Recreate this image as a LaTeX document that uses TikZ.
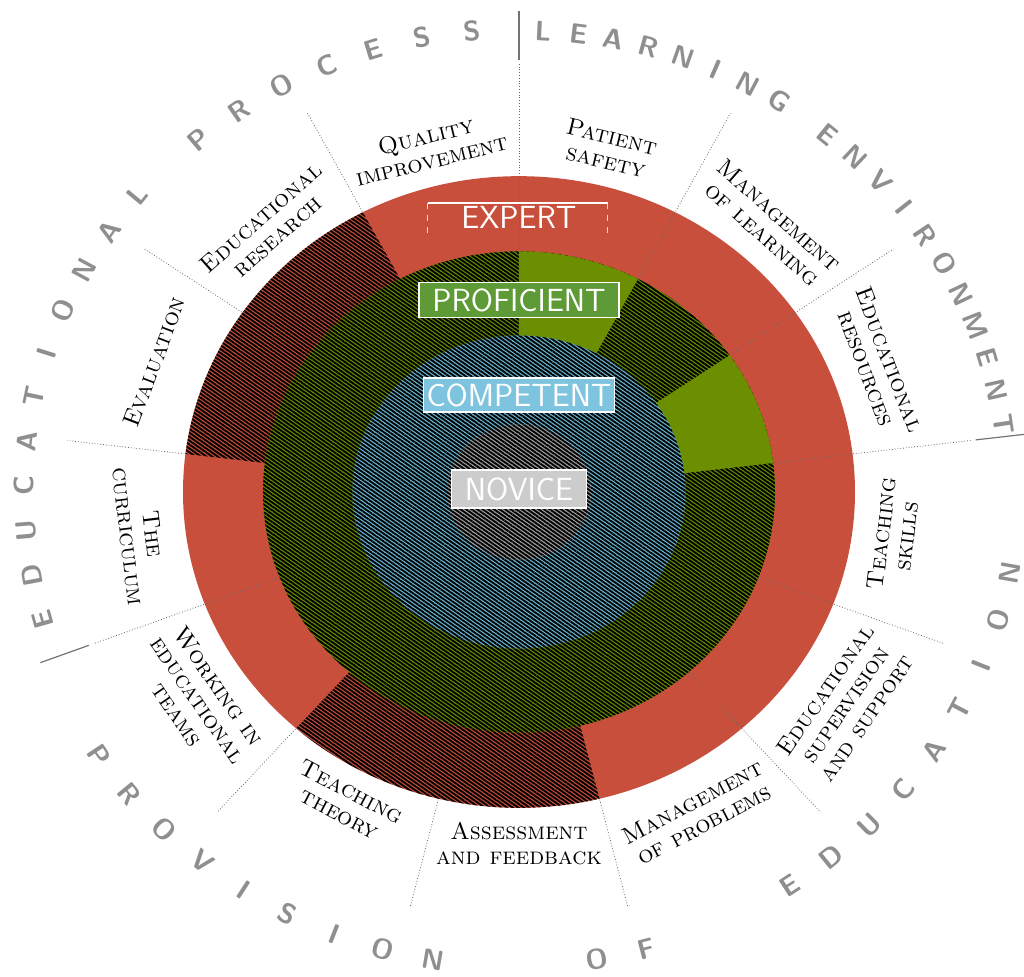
\documentclass[tikz,border=0pt]{standalone}
\usepackage{tikz}
\usetikzlibrary{patterns.meta}
\definecolor{expertred}{HTML}{C94F3D}
\definecolor{profgreen}{HTML}{6B8F00}
\definecolor{compblue}{HTML}{6CB8D6}
\definecolor{novgray}{HTML}{A2A2A2}
\definecolor{profbox}{HTML}{5E9A35}
\definecolor{compbox}{HTML}{7EC4DE}
\definecolor{novbox}{HTML}{CCCCCC}
\definecolor{rimgray}{HTML}{8F8F8F}
\tikzset{
  hatch/.style={pattern={Lines[angle=-35,distance=1.6pt,line width=0.95pt]}, pattern color=black},
  divider/.style={draw=black!60, densely dotted, line width=0.4pt},
  rim/.style={draw=black!55, line width=0.6pt},
  ringlabel/.style={align=center, font=\fontsize{12}{12.5}\selectfont\scshape, inner sep=0pt},
  levelbox/.style={draw=white, line width=0.8pt, text=white, font=\fontsize{16}{16}\selectfont\sffamily, inner sep=0pt},
  rimletter/.style={text=rimgray, font=\fontsize{14}{14}\selectfont\sffamily\bfseries, inner sep=0pt}
}
\newcommand{\wedgepath}[4]{(#3:#2) arc[start angle=#3, end angle=#4, radius=#2] -- (#4:#1) arc[start angle=#4, end angle=#3, radius=#1] -- cycle}

\begin{document}
\begin{tikzpicture}[x=0.5pt, y=0.5pt]
	\useasboundingbox (-519,-484) rectangle (505,492);
	\begin{scope}[yscale=0.94]
	% expert ring
	\fill[expertred] (0,0) circle (336);
	\path[hatch] \wedgepath{256}{336}{-131.54}{-76.15};
	\path[hatch] \wedgepath{256}{336}{117.69}{173.08};
	% segment dividers
	\foreach \a in {90,62.31,34.62,6.92,-20.77,-48.46,-159.23}
		\draw[divider] (\a:258) -- (\a:455);
	\foreach \a in {-76.15,-103.85,-131.54,173.08,145.38,117.69}
		\draw[divider] (\a:337) -- (\a:455);
	\foreach \a in {90,6.92,-159.23}
		\draw[rim] (\a:460) -- (\a:512);
	% proficient ring
	\fill[profgreen] (0,0) circle (256);
	\path[hatch] (0,0) circle (256);
	\fill[profgreen] \wedgepath{160}{256}{62.31}{90};
	\fill[profgreen] \wedgepath{160}{256}{6.92}{34.62};
	% competent and novice
	\fill[compblue] (0,0) circle (166.5);
	\path[hatch] (0,0) circle (166.5);
	\fill[novgray] (0,0) circle (72);
	\path[hatch] (0,0) circle (72);
	% level names
	\node[text=white, font=\fontsize{16}{16}\selectfont\sffamily] (expert) at (0,292.6) {EXPERT};
	\draw[white, line width=0.8pt] (-91,307.4) -- (89,307.4);
	\draw[white!75!expertred, dashed, line width=0.5pt] (-91,307.4) -- (-91,273.4) (89,307.4) -- (89,273.4);
	\node[levelbox, fill=profbox, minimum width=100pt, minimum height=17.5pt] (proficient) at (0,204.3) {PROFICIENT};
	\node[levelbox, fill=compbox, minimum width=95.5pt, minimum height=17pt] (competent) at (0,103.2) {COMPETENT};
	\node[levelbox, fill=novbox, minimum width=67.5pt, minimum height=19pt] (novice) at (0,3.2) {NOVICE};
	% segment labels
	\node[ringlabel, rotate=13.85] (quality) at (103.85:377) {Quality\\improvement};
	\node[ringlabel, rotate=-13.85] (safety) at (76.15:376) {Patient\\safety};
	\node[ringlabel, rotate=-41.54] (learning) at (48.46:380) {Management\\of learning};
	\node[ringlabel, rotate=-69.23] (resources) at (20.77:384) {Educational\\resources};
	\node[ringlabel, rotate=83.08] (skills) at (-6.92:378) {Teaching\\skills};
	\node[ringlabel, rotate=55.38] (supervision) at (-34.62:397) {Educational\\supervision\\and support};
	\node[ringlabel, rotate=27.69] (problems) at (-62.31:386) {Management\\of problems};
	\node[ringlabel] (assessment) at (-90:374) {Assessment\\and feedback};
	\node[ringlabel, rotate=-27.69] (theory) at (-117.69:373) {Teaching\\theory};
	\node[ringlabel, rotate=-55.38] (teams) at (-145.38:390) {Working in\\educational\\teams};
	\node[ringlabel, rotate=-83.08] (curriculum) at (-173.08:381) {The\\curriculum};
	\node[ringlabel, rotate=69.23] (evaluation) at (159.23:390) {Evaluation};
	\node[ringlabel, rotate=41.54] (research) at (131.54:377) {Educational\\research};
	% outer rim words
	\foreach \ch [count=\i from 0] in {E,D,U,C,A,T,I,O,N,A,L}
		\node[rimletter, rotate={105.9-5.55*\i}] (educ\i) at ({195.9-5.55*\i}:495) {\ch};
	\foreach \ch [count=\i from 0] in {P,R,O,C,E,S,S}
		\node[rimletter, rotate={40.5-5.83*\i}] (proc\i) at ({130.5-5.83*\i}:493) {\ch};
	\foreach \ch [count=\i from 0] in {L,E,A,R,N,I,N,G}
		\node[rimletter, rotate={-2.8-4.17*\i}] (learn\i) at ({87.2-4.17*\i}:491) {\ch};
	\foreach \ch [count=\i from 0] in {E,N,V,I,R,O,N,M,E,N,T}
		\node[rimletter, rotate={-39.1-4.24*\i}] (envir\i) at ({50.9-4.24*\i}:490) {\ch};
	\foreach \ch [count=\i from 0] in {P,R,O,V,I,S,I,O,N}
		\node[rimletter, rotate={-56.3+5.81*\i}] (provi\i) at ({-146.3+5.81*\i}:505) {\ch};
	\foreach \ch [count=\i from 0] in {O,F}
		\node[rimletter, rotate={8.9+5.8*\i}] (of\i) at ({-81.1+5.8*\i}:503) {\ch};
	\foreach \ch [count=\i from 0] in {E,D,U,C,A,T,I,O,N}
		\node[rimletter, rotate={32.9+5.89*\i}] (educa\i) at ({-57.1+5.89*\i}:498) {\ch};
	\end{scope}
\end{tikzpicture}
\end{document}
